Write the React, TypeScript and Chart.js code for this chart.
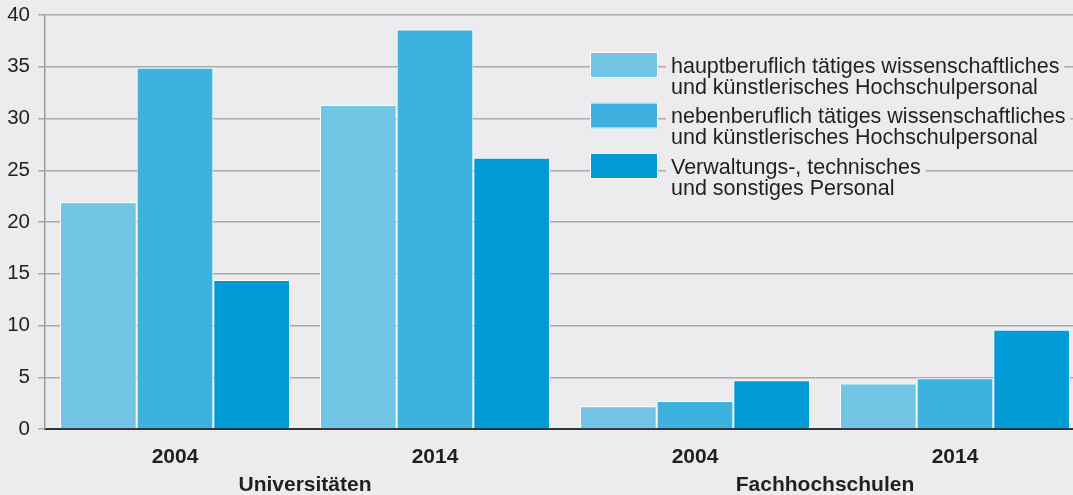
import React, { useEffect, useRef } from "react";
import { Chart, registerables } from "chart.js";

Chart.register(...registerables);

const categories = ["2004", "2014", "2004", "2014"];
const groupLabels = ["Universitäten", "Fachhochschulen"];
const groupSize = 2;

const seriesLabels: string[][] = [
  ["hauptberuflich tätiges wissenschaftliches", "und künstlerisches Hochschulpersonal"],
  ["nebenberuflich tätiges wissenschaftliches", "und künstlerisches Hochschulpersonal"],
  ["Verwaltungs-, technisches", "und sonstiges Personal"],
];

const hauptberuflich = [21.9, 31.3, 2.2, 4.4];
const nebenberuflich = [34.9, 38.6, 2.7, 4.9];
const verwaltung = [14.4, 26.2, 4.7, 9.6];

const yTicks = [0, 5, 10, 15, 20, 25, 30, 35, 40];

const colors = ["#72c5e5", "#3eb2de", "#009bd5"];
const BG = "#ececee";
const TEXT = "#231f20";
const FONT = "'Liberation Sans', Arial, Helvetica, sans-serif";

const legendPlugin = {
  id: "customLegend",
  afterDatasetsDraw(chart: any) {
    const { ctx, chartArea } = chart;
    const left = chartArea.left + 545;
    const top = chartArea.top + 37;
    const step = 50.5;
    ctx.save();
    ctx.font = `21.5px ${FONT}`;
    ctx.textBaseline = "alphabetic";
    ctx.textAlign = "left";
    seriesLabels.forEach((lines, i) => {
      const y0 = top + i * step;
      ctx.fillStyle = colors[i];
      ctx.fillRect(left, y0, 68, 26);
      ctx.strokeStyle = "#ffffff";
      ctx.lineWidth = 1;
      ctx.strokeRect(left + 0.5, y0 + 0.5, 67, 25);
      const tx = left + 81;
      lines.forEach((line, j) => {
        const by = y0 + 20.6 + j * 21.3;
        const w = ctx.measureText(line).width;
        ctx.fillStyle = BG;
        ctx.fillRect(tx - 5, by - 16, w + 10, 21);
      });
      lines.forEach((line, j) => {
        const by = y0 + 20.6 + j * 21.3;
        ctx.fillStyle = TEXT;
        ctx.fillText(line, tx, by);
      });
    });
    ctx.restore();
  },
};

const groupPlugin = {
  id: "groupLabels",
  afterDraw(chart: any) {
    const { ctx } = chart;
    const xs = chart.scales.x;
    ctx.save();
    ctx.font = `bold 21px ${FONT}`;
    ctx.fillStyle = TEXT;
    ctx.textAlign = "center";
    ctx.textBaseline = "alphabetic";
    groupLabels.forEach((g, i) => {
      const a = xs.getPixelForValue(i * groupSize);
      const b = xs.getPixelForValue(i * groupSize + groupSize - 1);
      ctx.fillText(g, (a + b) / 2, 491);
    });
    ctx.restore();
  },
};

export default function App() {
  const ref = useRef<HTMLCanvasElement | null>(null);
  useEffect(() => {
    document.body.style.margin = "0";
    document.body.style.background = BG;
    const canvas = ref.current!;
    const chart = new Chart(canvas, {
      type: "bar",
      data: {
        labels: categories,
        datasets: [hauptberuflich, nebenberuflich, verwaltung].map((d, i) => ({
          label: seriesLabels[i].join(" "),
          data: d,
          backgroundColor: colors[i],
          borderColor: "#ffffff",
          borderWidth: { top: 1, left: 1, right: 1, bottom: 0 },
          borderSkipped: "start",
          barPercentage: 1,
          categoryPercentage: 230 / 260,
        })),
      },
      options: {
        responsive: false,
        animation: false,
        devicePixelRatio: 1,
        layout: { padding: { left: 0, right: 15, top: 15, bottom: 0 } },
        plugins: { legend: { display: false }, tooltip: { enabled: false } },
        scales: {
          x: {
            z: 1,
            grid: { display: false, drawTicks: false },
            border: { display: true, color: "#333333", width: 2 },
            ticks: {
              font: { family: FONT, size: 21, weight: "bold" },
              color: TEXT,
              padding: 16,
            },
            afterFit: (s: any) => {
              s.height = 66;
              s.paddingLeft = 0;
              s.paddingRight = 0;
            },
          },
          y: {
            min: 0,
            max: 40,
            afterBuildTicks: (s: any) => {
              s.ticks = yTicks.map((v) => ({ value: v }));
            },
            ticks: {
              font: { family: FONT, size: 20.5 },
              color: TEXT,
              padding: 8,
            },
            grid: {
              color: "#a9a9ab",
              lineWidth: 1.5,
              tickLength: 7,
              tickColor: "#a9a9ab",
              tickWidth: 1.5,
            },
            border: { color: "#9a9a9c", width: 1.5 },
            afterFit: (s: any) => {
              s.width = 45;
              s.paddingTop = 0;
              s.paddingBottom = 0;
            },
          },
        },
      },
      plugins: [legendPlugin, groupPlugin],
    });
    return () => chart.destroy();
  }, []);
  return (
    <div
      style={{
        position: "fixed",
        left: 0,
        top: 0,
        width: 1073,
        height: 495,
        overflow: "hidden",
        background: BG,
      }}
    >
      <canvas ref={ref} width={1100} height={495} style={{ display: "block" }} />
    </div>
  );
}
